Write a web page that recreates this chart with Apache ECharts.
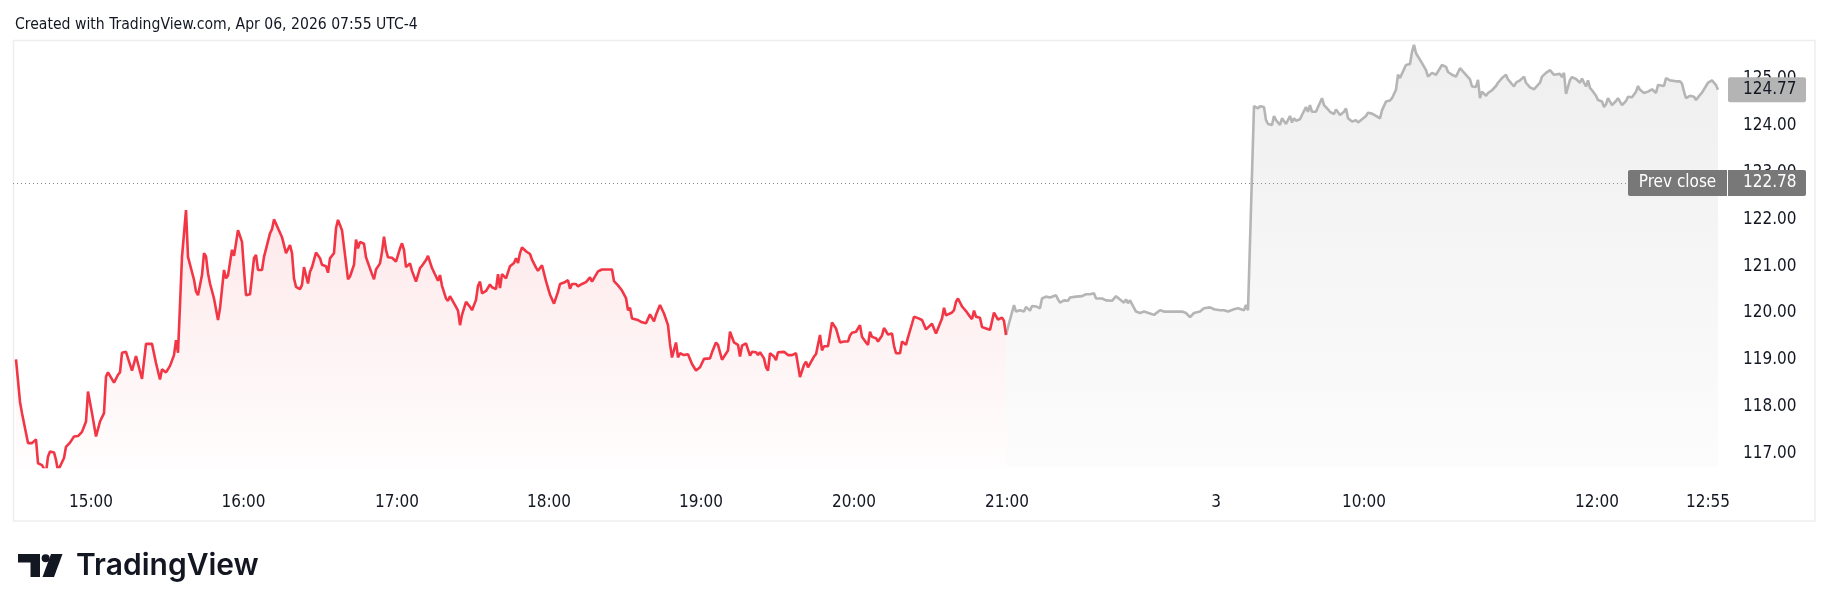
<!DOCTYPE html>
<html>
<head>
<meta charset="utf-8">
<script src="https://cdn.jsdelivr.net/npm/echarts@6/dist/echarts.min.js"></script>
<style>
html,body{margin:0;padding:0;background:#fff;}
#c{width:1830px;height:611px;}
</style>
</head>
<body>
<div id="c"></div>
<script>
// ---- Data (bar index = position on TradingView's index-based time scale) ----
const redBars = [0,2,3,4,6,8,10,11,13,15,16,17,19,20,21,22,24,25,27,29,31,33,35,36,38,40,42,44,45,46,49,51,52,53,55,56,58,59,60,63,65,68,70,72,73,75,77,79,80,81,83,85,86,87,89,90,91,93,94,95,96,97,99,100,101,102,104,105,106,108,109,110,111,113,114,115,117,118,119,120,121,123,124,125,127,128,129,131,133,134,135,137,138,139,140,142,143,144,146,147,148,150,151,152,153,155,156,157,159,160,161,163,164,166,167,169,170,171,172,174,175,176,178,179,180,182,183,184,185,186,188,189,190,192,193,194,195,197,198,199,200,202,203,205,206,207,208,210,211,212,213,215,216,217,218,220,221,222,223,225,226,227,228,230,231,232,233,235,237,238,240,241,242,243,245,247,249,250,251,252,253,255,257,258,260,261,263,264,265,267,269,271,272,274,276,277,278,280,281,283,285,287,288,289,291,292,293,296,298,299,301,303,305,306,307,308,311,313,314,315,317,319,320,322,324,326,327,328,330,331,332,334,336,337,338,340,342,344,345,347,348,350,351,352,353,354,356,357,358,359,361,362,363,365,366,367,368,370,371,372,374,375,376,377,379,380,381,382,384,385,386,388,390,391,392,394,395,396,397,399,400,401,402,403,404,406,407,408,410,412,414,416,417,418,420,422,423,425,426,427,428,430,431,433,434,435,436,438,439,440,442,443,445,446,448,449,451,453,454,455,456,458,459,460,461,463,464,465,466,468,469,470,471,473,474,475,477,478,479,480,481,482,483,485,487,489,491,493,494,495];
const redPrices = [119.01,118.10,117.86,117.86,117.22,117.22,117.30,116.79,116.75,116.59,116.93,117.04,117.02,116.86,116.63,116.63,116.90,117.14,117.23,117.36,117.37,117.46,117.68,118.32,117.86,117.36,117.68,117.86,118.64,118.73,118.51,118.68,118.73,119.15,119.17,119.03,118.77,118.80,119.08,118.59,119.34,119.34,118.93,118.58,118.80,118.73,118.87,119.10,119.42,119.15,121.20,122.20,121.20,121.20,120.71,120.46,120.38,120.81,121.28,121.21,120.85,120.63,120.31,120.28,119.85,120.10,120.92,120.74,120.80,121.35,121.22,121.49,121.77,121.52,120.92,120.38,120.40,120.78,121.17,121.24,120.92,120.92,121.20,121.19,121.70,121.79,122.00,121.81,121.62,121.60,121.28,121.45,121.28,120.74,120.56,120.51,120.60,120.98,120.63,120.88,120.98,121.29,121.33,121.17,121.03,121.00,120.86,121.17,121.28,121.81,121.99,121.77,121.42,120.72,120.78,121.03,121.57,121.38,121.52,121.48,121.19,121.18,120.83,120.72,120.93,121.06,121.31,121.63,121.35,121.19,121.18,121.18,121.10,121.38,121.49,121.35,120.98,121.06,120.90,120.91,120.67,120.96,121.01,121.13,121.22,121.20,120.96,120.78,120.69,120.81,120.58,120.31,120.26,120.36,120.37,120.13,120.05,119.74,119.96,120.24,120.23,120.13,120.06,120.28,120.58,120.67,120.42,120.47,120.61,120.55,120.51,120.83,120.53,120.83,120.74,121.00,121.07,121.17,121.07,121.28,121.40,121.32,121.26,121.14,120.97,120.90,121.02,121.00,120.68,120.39,120.20,120.45,120.62,120.65,120.70,120.52,120.62,120.62,120.57,120.62,120.66,120.76,120.67,120.71,120.89,120.85,120.93,120.93,120.93,120.68,120.59,120.48,120.32,120.06,120.11,119.88,119.85,119.80,119.82,119.78,119.97,119.82,119.96,120.17,119.99,119.74,119.34,119.05,119.37,119.05,119.14,119.10,119.12,119.14,118.91,118.77,118.84,119.02,119.03,119.03,119.16,119.37,119.32,119.36,119.00,118.99,119.20,119.60,119.56,119.37,119.32,119.07,119.30,119.35,119.32,119.09,119.17,119.16,119.10,119.16,119.03,118.84,118.77,119.14,119.07,118.99,119.16,119.14,119.17,119.14,119.10,119.10,119.14,118.89,118.63,118.89,118.96,118.84,118.80,119.07,119.12,119.12,119.53,119.20,119.29,119.29,119.54,119.80,119.67,119.37,119.39,119.39,119.52,119.58,119.60,119.74,119.49,119.37,119.32,119.60,119.49,119.46,119.39,119.52,119.68,119.72,119.54,119.56,119.30,119.14,119.14,119.39,119.32,119.48,119.77,119.92,119.89,119.85,119.81,119.65,119.65,119.77,119.74,119.56,119.52,119.88,120.11,119.95,119.92,120.01,120.06,120.24,120.31,120.14,120.09,120.04,119.92,119.87,120.05,119.92,119.88,119.90,119.70,119.67,119.64,120.01,119.86,119.90,119.83,119.53];

const grayBars = [495,497,499,500,502,504,505,507,508,510,512,513,515,517,520,521,522,524,526,527,530,533,535,537,539,540,543,545,548,550,552,554,555,556,557,559,560,562,564,565,567,569,570,572,574,576,577,579,580,583,585,586,587,589,590,592,594,595,597,599,600,602,604,606,607,609,611,612,614,615,616,617,619,621,622,624,625,626,628,629,630,632,633,634,635,637,638,639,640,642,643,645,646,647,648,650,651,652,653,654,656,657,659,660,661,662,664,665,666,668,670,671,673,675,676,678,680,682,683,684,685,687,688,690,691,692,694,695,697,698,699,700,701,703,705,706,707,708,710,712,713,715,716,718,720,721,722,723,725,726,727,728,730,731,732,733,735,736,738,740,741,743,745,746,747,749,750,751,752,754,755,757,759,760,762,763,765,766,767,769,770,772,773,774,775,777,778,780,782,783,784,785,786,787,788,790,791,793,794,795,796,798,800,801,803,805,806,808,810,811,812,814,816,818,820,821,822,824,825,826,827,830,832,833,834,835,837,838,839,840,842,843,844,845,846,848,850,851];
const grayPrices = [119.53,119.86,120.17,120.03,120.06,120.03,120.13,120.05,120.15,120.14,120.10,120.31,120.35,120.33,120.38,120.29,120.22,120.27,120.26,120.33,120.35,120.36,120.40,120.40,120.42,120.31,120.31,120.27,120.26,120.36,120.29,120.22,120.29,120.21,120.27,120.11,120.03,120.00,120.03,120.00,119.99,119.96,119.99,120.06,120.03,120.03,120.06,120.03,120.05,120.03,120.00,119.96,119.91,120.00,120.01,120.03,120.10,120.06,120.12,120.08,120.10,120.06,120.06,120.03,120.00,120.08,120.10,120.10,120.06,120.17,120.06,120.06,124.42,124.37,124.42,124.40,124.12,124.04,124.02,124.21,124.12,124.02,124.16,124.16,124.04,124.21,124.07,124.16,124.11,124.14,124.23,124.40,124.30,124.44,124.30,124.30,124.40,124.42,124.59,124.44,124.35,124.30,124.25,124.35,124.33,124.23,124.30,124.37,124.16,124.09,124.12,124.07,124.14,124.21,124.28,124.26,124.21,124.16,124.33,124.30,124.52,124.54,124.59,124.77,125.09,125.02,125.21,125.30,125.32,125.58,125.73,125.55,125.48,125.34,125.19,125.05,125.05,125.13,125.09,125.23,125.30,125.26,125.15,125.09,125.05,125.14,125.23,125.21,125.09,125.06,124.99,124.84,124.83,124.98,124.59,124.73,124.64,124.70,124.76,124.85,124.92,125.02,125.09,124.99,124.99,124.84,124.92,124.91,124.97,125.05,124.92,124.82,124.78,124.77,124.92,125.05,125.13,125.12,125.19,125.09,125.09,125.11,125.04,125.13,124.68,124.98,125.04,125.00,124.92,125.01,124.92,124.84,124.97,124.81,124.76,124.64,124.55,124.52,124.40,124.46,124.59,124.44,124.53,124.59,124.44,124.53,124.62,124.61,124.73,124.85,124.77,124.70,124.73,124.78,124.70,124.87,124.91,124.85,125.02,125.02,124.97,124.95,124.95,124.90,124.73,124.59,124.64,124.62,124.62,124.55,124.66,124.71,124.73,124.85,124.92,124.97,124.87,124.77];

const tickBars   = [37.5, 113.75, 190.5, 266.5, 342.5, 419, 495.5, 600, 674, 790.5, 846];
const tickLabels = ['15:00','16:00','17:00','18:00','19:00','20:00','21:00','3','10:00','12:00','12:55'];
const priceTicks = [117,118,119,120,121,122,123,124,125];
const prevClose = 122.78;
const titleText = 'Created with TradingView.com, Apr 06, 2026 07:55 UTC-4';

// ---- Chart ----
const FONT = "'DejaVu Sans Condensed', 'DejaVu Sans', sans-serif";
const TXT = '#131722';
const chart = echarts.init(document.getElementById('c'), null, {renderer: 'canvas'});

const zip = (a, b) => a.map((v, i) => [v, b[i]]);

const option = {
  animation: false,
  backgroundColor: '#ffffff',
  grid: {left: 13, right: 103, top: 41, bottom: 144, containLabel: false},
  xAxis: {
    type: 'value', min: -1.5, max: 855.5,
    axisLine: {show: false}, axisTick: {show: false}, splitLine: {show: false},
    axisLabel: {
      customValues: tickBars, margin: 27, fontSize: 17, color: TXT, fontFamily: FONT,
      formatter: (v) => { const i = tickBars.findIndex(t => Math.abs(t - v) < 0.01); return i >= 0 ? tickLabels[i] : ''; }
    }
  },
  yAxis: {
    type: 'value', position: 'right', min: 116.709, max: 125.812, scale: true,
    axisLine: {show: false}, axisTick: {show: false}, splitLine: {show: false},
    axisLabel: {customValues: priceTicks, margin: 16, align: 'left', fontSize: 17, color: TXT, fontFamily: FONT,
      formatter: (v) => v.toFixed(2)}
  },
  series: [
    {
      type: 'line', data: zip(redBars, redPrices), showSymbol: false, symbol: 'none',
      lineStyle: {color: '#f23645', width: 2.6}, z: 3,
      areaStyle: {color: new echarts.graphic.LinearGradient(0, 0, 0, 1, [
        {offset: 0, color: 'rgba(242,54,69,0.16)'},
        {offset: 1, color: 'rgba(242,54,69,0.01)'}
      ])},
      markLine: {
        silent: true, symbol: 'none', animation: false,
        label: {show: false},
        lineStyle: {color: '#8a8a8a', type: [1, 3], width: 1},
        data: [{yAxis: prevClose}]
      }
    },
    {
      type: 'line', data: zip(grayBars, grayPrices), showSymbol: false, symbol: 'none',
      lineStyle: {color: '#b5b5b5', width: 2.6}, z: 2,
      areaStyle: {color: new echarts.graphic.LinearGradient(0, 0, 0, 1, [
        {offset: 0, color: 'rgba(200,200,200,0.42)'},
        {offset: 1, color: 'rgba(200,200,200,0.08)'}
      ])}
    }
  ]
};
chart.setOption(option);

// ---- overlay elements positioned through the chart's scales ----
const lastPrice = grayPrices[grayPrices.length - 1];
const yLast = chart.convertToPixel({yAxisIndex: 0}, lastPrice);
const yPrev = chart.convertToPixel({yAxisIndex: 0}, prevClose);
const xPane = chart.convertToPixel({xAxisIndex: 0}, 855.5);

const graphics = [
  {type: 'rect', z: 1, silent: true, shape: {x: 13.5, y: 40.5, width: 1801.5, height: 480.5},
    style: {fill: 'none', stroke: '#eeeeee', lineWidth: 1.5}},
  {type: 'text', z: 100, x: 15, y: 24.5, style: {text: titleText, font: '15.6px ' + FONT, fill: TXT, align: 'left', verticalAlign: 'middle'}},
  // last price box
  {type: 'rect', z: 100, shape: {x: xPane + 1, y: yLast - 12.5, width: 78, height: 25, r: 2}, style: {fill: '#b4b4b4'}},
  {type: 'text', z: 101, x: xPane + 16, y: yLast, style: {text: lastPrice.toFixed(2), font: '17px ' + FONT, fill: TXT, align: 'left', verticalAlign: 'middle'}},
  // prev close boxes
  {type: 'rect', z: 100, shape: {x: xPane - 99, y: yPrev - 13, width: 99, height: 26, r: [2, 0, 0, 2]}, style: {fill: '#787878'}},
  {type: 'text', z: 101, x: xPane - 49.5, y: yPrev, style: {text: 'Prev close', font: '17px ' + FONT, fill: '#ffffff', align: 'center', verticalAlign: 'middle'}},
  {type: 'rect', z: 100, shape: {x: xPane + 1, y: yPrev - 13, width: 78, height: 26, r: [0, 2, 2, 0]}, style: {fill: '#787878'}},
  {type: 'text', z: 101, x: xPane + 16, y: yPrev, style: {text: prevClose.toFixed(2), font: '17px ' + FONT, fill: '#ffffff', align: 'left', verticalAlign: 'middle'}},
  // TradingView logo
  {type: 'rect', z: 100, shape: {x: 18, y: 554, width: 22, height: 8.5}, style: {fill: '#131722'}},
  {type: 'rect', z: 100, shape: {x: 30.5, y: 554, width: 9.5, height: 23}, style: {fill: '#131722'}},
  {type: 'circle', z: 100, shape: {cx: 45.6, cy: 558.3, r: 4}, style: {fill: '#131722'}},
  {type: 'polygon', z: 100, shape: {points: [[51, 554], [62.5, 554], [54, 577], [42.5, 577]]}, style: {fill: '#131722'}},
  {type: 'text', z: 100, x: 76, y: 566, style: {text: 'TradingView', font: '600 30px Inter, sans-serif', fill: '#131722', align: 'left', verticalAlign: 'middle'}}
];
chart.setOption({graphic: graphics});
</script>
</body>
</html>
